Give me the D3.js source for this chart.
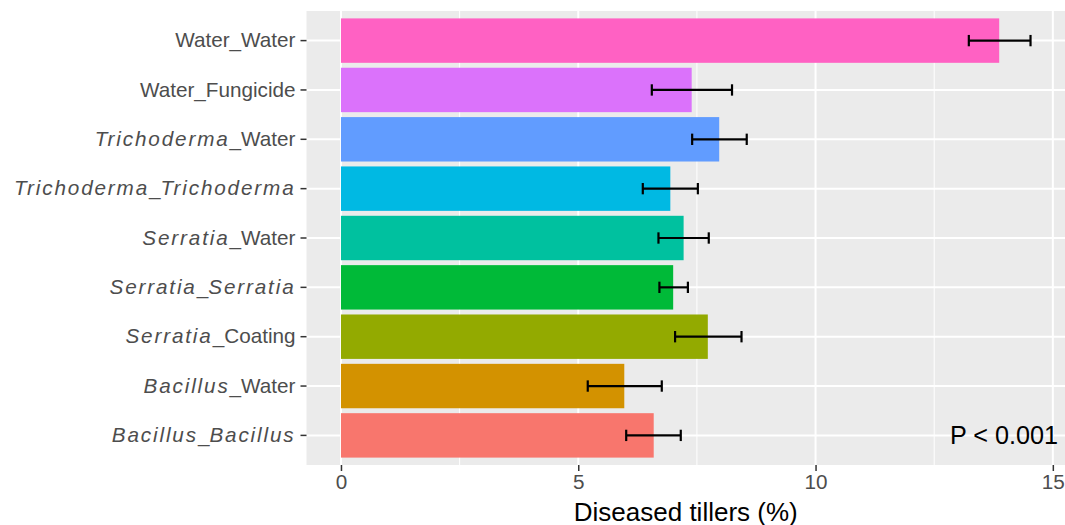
<!DOCTYPE html>
<html>
<head>
<meta charset="utf-8">
<script src="https://cdn.jsdelivr.net/npm/d3@7"></script>
<style>
  html, body { margin: 0; padding: 0; background: #fff; }
  svg { display: block; font-family: "Liberation Sans", Arial, sans-serif; }
</style>
</head>
<body>
<svg id="chart" width="1065" height="525"></svg>
<script>
// Treatments (bottom to top), mean diseased tillers and error-bar limits
const categories = ["Bacillus_Bacillus", "Bacillus_Water", "Serratia_Coating", "Serratia_Serratia",
  "Serratia_Water", "Trichoderma_Trichoderma", "Trichoderma_Water", "Water_Fungicide", "Water_Water"];
const means = [6.59, 5.97, 7.73, 7.00, 7.22, 6.94, 7.97, 7.39, 13.87];
const lower = [6.01, 5.20, 7.04, 6.71, 6.69, 6.36, 7.40, 6.55, 13.23];
const upper = [7.16, 6.76, 8.44, 7.31, 7.75, 7.52, 8.55, 8.24, 14.53];
const colors = ["#F8766D", "#D39200", "#93AA00", "#00BA38", "#00C19F", "#00B9E3", "#619CFF", "#DB72FB", "#FF61C3"];
const xTicks = [0, 5, 10, 15];
const xMinor = [2.5, 7.5, 12.5];
const genera = ["Bacillus", "Serratia", "Trichoderma"];
const xTitle = "Diseased tillers (%)";
const pLabel = "P < 0.001";

const data = categories.map((c, i) => ({ cat: c, mean: means[i], lo: lower[i], hi: upper[i], color: colors[i] }));

const svg = d3.select("#chart");
const panel = { left: 306.5, right: 1065, top: 11, bottom: 465 };

// x scale with 5% expansion of the data range
const xMax = d3.max(upper);
const pad = xMax * 0.05;
const x = d3.scaleLinear().domain([-pad, xMax + pad]).range([panel.left, panel.right]);

// y: categories top to bottom (reverse order), 0.6 units of padding at each end
const y = d3.scaleBand()
  .domain(categories.slice().reverse())
  .range([panel.top, panel.bottom])
  .paddingInner(0)
  .paddingOuter(0.1);
const bw = y.bandwidth();

// panel background
svg.append("rect")
  .attr("x", panel.left).attr("y", panel.top)
  .attr("width", panel.right - panel.left).attr("height", panel.bottom - panel.top)
  .attr("fill", "#EBEBEB");

// grid lines
const grid = svg.append("g");
grid.selectAll(".minor").data(xMinor).join("line")
  .attr("x1", d => x(d)).attr("x2", d => x(d))
  .attr("y1", panel.top).attr("y2", panel.bottom)
  .attr("stroke", "#fff").attr("stroke-width", 1);
grid.selectAll(".majx").data(xTicks).join("line")
  .attr("x1", d => x(d)).attr("x2", d => x(d))
  .attr("y1", panel.top).attr("y2", panel.bottom)
  .attr("stroke", "#fff").attr("stroke-width", 2);
grid.selectAll(".majy").data(categories).join("line")
  .attr("x1", panel.left).attr("x2", panel.right)
  .attr("y1", d => y(d) + bw / 2).attr("y2", d => y(d) + bw / 2)
  .attr("stroke", "#fff").attr("stroke-width", 2);

// bars
svg.append("g").selectAll("rect").data(data).join("rect")
  .attr("x", x(0))
  .attr("y", d => y(d.cat) + bw * 0.05)
  .attr("width", d => x(d.mean) - x(0))
  .attr("height", bw * 0.9)
  .attr("fill", d => d.color);

// error bars
const capHalf = bw * 0.115;
const eb = svg.append("g").attr("stroke", "#000").attr("stroke-width", 2.2);
data.forEach(d => {
  const cy = y(d.cat) + bw / 2;
  eb.append("line").attr("x1", x(d.lo)).attr("x2", x(d.hi)).attr("y1", cy).attr("y2", cy);
  eb.append("line").attr("x1", x(d.lo)).attr("x2", x(d.lo)).attr("y1", cy - capHalf).attr("y2", cy + capHalf);
  eb.append("line").attr("x1", x(d.hi)).attr("x2", x(d.hi)).attr("y1", cy - capHalf).attr("y2", cy + capHalf);
});

// x axis
const xAxis = svg.append("g")
  .attr("transform", `translate(0,${panel.bottom})`)
  .call(d3.axisBottom(x).tickValues(xTicks).tickSize(6).tickPadding(3).tickFormat(d3.format("d")));
xAxis.select(".domain").remove();
xAxis.selectAll(".tick line").attr("stroke", "#333").attr("stroke-width", 1.5);
xAxis.selectAll(".tick text")
  .attr("fill", "#4D4D4D").attr("font-size", 20.7)
  .attr("font-family", "'Liberation Sans', Arial, sans-serif");

// y axis with italic genus names
const yAxis = svg.append("g")
  .attr("transform", `translate(${panel.left},0)`)
  .call(d3.axisLeft(y).tickSize(6).tickPadding(5));
yAxis.select(".domain").remove();
yAxis.selectAll(".tick line").attr("stroke", "#333").attr("stroke-width", 1.5);
yAxis.selectAll(".tick text")
  .attr("fill", "#4D4D4D").attr("font-size", 20.7)
  .attr("font-family", "'Liberation Sans', Arial, sans-serif")
  .each(function(d) {
    const t = d3.select(this);
    t.text(null);
    const parts = d.split("_");
    parts.forEach((p, i) => {
      if (i > 0) t.append("tspan").text("_");
      const ts = t.append("tspan").text(p);
      if (genera.includes(p)) ts.attr("font-style", "italic").attr("letter-spacing", "1.85px");
    });
  });

// axis title
svg.append("text")
  .attr("x", (panel.left + panel.right) / 2).attr("y", 520.5)
  .attr("text-anchor", "middle").attr("font-size", 26).attr("fill", "#000")
  .text(xTitle);

// significance annotation
svg.append("text")
  .attr("x", 1058).attr("y", 444.3)
  .attr("text-anchor", "end").attr("font-size", 25.2).attr("fill", "#000")
  .text(pLabel);
</script>
</body>
</html>
